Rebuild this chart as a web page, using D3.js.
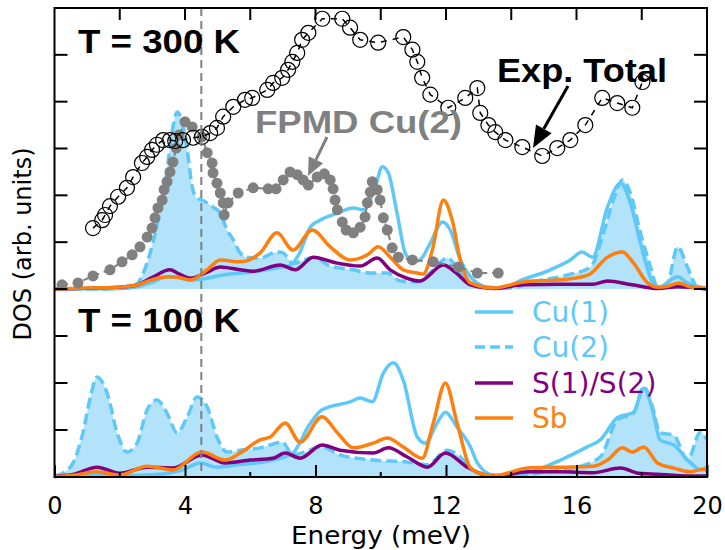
<!DOCTYPE html>
<html>
<head>
<meta charset="utf-8">
<script src="https://cdn.jsdelivr.net/npm/d3@7"></script>
<style>
body { margin: 0; background: #fff; }
</style>
</head>
<body>
<script>
// ---- data (energy meV, DOS arb.) ----
var xTicks = [0, 4, 8, 12, 16, 20];
var xMinorTicks = [2, 6, 10, 14, 18];
var legendNames = ["Cu(1)", "Cu(2)", "S(1)/S(2)", "Sb"];
var panelLabels = ["T = 300 K", "T = 100 K"];

var cu1_300 = [[0,0],[2,0.01],[2.5,0.04],[3,0.15],[3.45,0.26],[3.8,0.24],[4.16,0.19],[4.68,0.23],[5.17,0.3],[6.0,0.36],[6.82,0.45],[7.2,0.5],[7.5,0.75],[7.84,1.32],[8.14,1.47],[8.67,1.62],[9.16,1.73],[9.47,1.69],[9.83,2.18],[10.05,2.61],[10.23,2.48],[10.5,1.62],[10.75,0.77],[11.0,0.58],[11.2,0.62],[11.52,0.98],[11.89,1.43],[12.13,1.26],[12.44,0.62],[12.75,0.26],[13.26,0.04],[13.8,0.01],[14.19,0.15],[15.2,0.41],[15.81,0.62],[16.17,0.79],[16.49,0.68],[16.95,1.75],[17.35,2.26],[17.65,1.84],[17.96,0.98],[18.33,0.15],[18.56,0.04],[18.88,0.19],[19.1,0.26],[19.4,0.13],[19.8,0.04],[20,0.02]];
var cu2_300 = [[0,0],[1,0],[2,0.01],[2.4,0.04],[2.56,0.13],[2.93,0.77],[3.24,1.69],[3.45,2.54],[3.6,3.33],[3.76,3.78],[3.9,3.6],[4.07,2.97],[4.22,2.18],[4.37,1.94],[4.52,1.9],[4.86,1.75],[5.08,1.62],[5.29,1.26],[5.48,1.05],[5.69,0.77],[5.9,0.68],[6.3,0.66],[6.82,0.79],[7.01,0.77],[7.31,0.55],[7.93,0.67],[8.45,0.49],[9.16,0.41],[9.68,0.34],[10.2,0.34],[10.6,0.17],[11.12,0.15],[11.61,0.41],[12.04,0.66],[12.38,0.41],[12.65,0.13],[13.26,0.04],[14,0.02],[14.68,0.15],[15.72,0.3],[16.43,0.47],[16.83,1.2],[17.13,1.9],[17.41,2.33],[17.65,2.05],[17.96,1.2],[18.27,0.47],[18.48,0.04],[18.79,0.13],[19.1,0.9],[19.4,0.47],[19.7,0.04],[20,0]];
var s_300 = [[0,0],[2,0.04],[2.5,0.08],[3.0,0.25],[3.54,0.41],[3.8,0.33],[4.16,0.23],[4.68,0.36],[5.08,0.47],[5.69,0.41],[6.09,0.38],[6.92,0.51],[7.38,0.41],[7.93,0.68],[8.61,0.56],[9.37,0.49],[9.89,0.66],[10.29,0.41],[10.8,0.23],[11.2,0.17],[11.92,0.51],[12.3,0.35],[12.75,0.09],[13.5,0.01],[14.37,0.09],[15.5,0.1],[16.5,0.1],[16.95,0.17],[17.7,0.09],[18.5,0.01],[19.1,0.05],[20,0]];
var sb_300 = [[0,0],[1,0.02],[2,0.04],[2.5,0.08],[3.0,0.2],[3.5,0.26],[3.8,0.25],[4.16,0.19],[4.68,0.41],[5.08,0.62],[5.69,0.58],[6.3,0.77],[6.82,1.2],[7.31,0.83],[7.9,1.26],[8.45,0.9],[9.06,0.62],[9.59,0.73],[9.92,0.9],[10.29,0.68],[10.69,0.41],[11.12,0.34],[11.3,0.32],[11.58,0.83],[11.92,1.9],[12.19,1.47],[12.44,0.62],[12.75,0.13],[13.45,0.02],[14.37,0.15],[15.72,0.21],[16.37,0.3],[16.95,0.68],[17.41,0.79],[17.75,0.55],[18.18,0.13],[18.48,0.04],[18.8,0.06],[19.13,0.13],[19.5,0.04],[20,0.02]];

var cu1_100 = [[0,0.01],[1,0.03],[2,0.03],[3,0.05],[3.5,0.08],[3.94,0.15],[4.46,0.3],[4.98,0.21],[5.6,0.26],[6.7,0.36],[7.31,0.51],[7.8,1.1],[8.2,1.43],[9.06,1.6],[9.37,1.68],[9.74,1.6],[10.08,2.21],[10.39,2.43],[10.69,2.06],[11.12,0.85],[11.36,0.72],[11.73,1.15],[11.98,1.38],[12.34,1.06],[12.75,0.64],[12.96,0.3],[13.45,0.04],[14,0.03],[15.51,0.36],[16.33,0.64],[16.73,0.79],[17.25,1.26],[17.75,1.38],[18.06,1.89],[18.33,1.43],[18.56,0.79],[18.98,0.68],[19.5,0.3],[19.8,0.15],[20,0.21]];
var cu2_100 = [[0,0.02],[0.3,0.1],[0.57,0.3],[0.87,0.94],[1.1,1.7],[1.3,2.13],[1.61,1.79],[1.92,0.94],[2.22,0.53],[2.53,0.72],[2.84,1.43],[3.14,1.64],[3.45,1.36],[3.76,0.94],[4.07,1.28],[4.37,1.7],[4.68,1.49],[4.98,0.85],[5.29,0.53],[5.69,0.57],[6.3,0.62],[6.98,0.74],[7.31,0.47],[8.2,0.64],[8.75,0.47],[9.77,0.36],[10.8,0.32],[11.43,0.26],[12.04,0.57],[12.44,0.43],[12.84,0.15],[13.45,0.04],[13.9,0.02],[15.0,0.1],[16.03,0.21],[16.73,0.43],[17.25,1.21],[17.75,1.36],[18.06,1.92],[18.33,1.49],[18.56,0.94],[18.98,0.89],[19.4,0.36],[19.8,0.96],[20,0.79]];
var s_100 = [[0,0.01],[0.6,0.06],[1.3,0.21],[2.0,0.08],[2.84,0.21],[3.63,0.19],[4.52,0.47],[5.23,0.3],[6.0,0.36],[6.7,0.4],[7.07,0.51],[7.53,0.4],[8.2,0.68],[8.75,0.57],[9.77,0.51],[10.23,0.62],[10.8,0.43],[11.43,0.21],[11.98,0.51],[12.65,0.21],[12.96,0.1],[13.5,0.02],[14.5,0.11],[15.5,0.11],[16.5,0.09],[17.35,0.19],[17.9,0.08],[18.5,0.06],[19.5,0.02],[20,0.02]];
var sb_100 = [[0,0.01],[0.6,0.04],[1.3,0.11],[2.0,0.04],[2.84,0.23],[3.63,0.15],[4.52,0.53],[5.23,0.36],[5.69,0.51],[6.3,0.79],[6.61,0.85],[7.07,1.15],[7.53,0.74],[8.2,1.28],[8.67,0.94],[9.16,0.62],[9.77,0.72],[10.2,0.83],[10.69,0.64],[11.27,0.4],[11.61,1.15],[11.98,2.0],[12.34,1.15],[12.75,0.19],[13.05,0.08],[13.45,0.02],[14.5,0.19],[15.51,0.21],[16.52,0.23],[16.95,0.36],[17.41,0.62],[17.71,0.53],[18.06,0.64],[18.48,0.3],[18.98,0.19],[19.5,0.11],[19.9,0.17],[20,0.13]];

// FPMD Cu(2) (grey dots) and experiment (open circles), 300 K panel
var fpmd = [[0.23,0.09],[0.72,0.13],[1.18,0.28],[1.7,0.41],[2.07,0.58],[2.38,0.73],[2.62,0.9],[2.84,1.11],[2.99,1.3],[3.08,1.52],[3.17,1.73],[3.3,1.9],[3.36,2.12],[3.45,2.29],[3.54,2.5],[3.63,2.71],[3.73,3.01],[3.82,3.29],[4.0,3.57],[4.22,3.46],[4.52,3.25],[4.68,2.91],[4.83,2.69],[4.86,2.48],[4.98,2.26],[5.08,2.05],[5.17,1.84],[5.2,1.58],[5.32,1.84],[5.63,2.05],[6.09,2.16],[6.55,2.14],[6.79,2.14],[7.01,2.33],[7.22,2.5],[7.44,2.44],[7.62,2.33],[7.78,2.22],[8.05,2.39],[8.27,2.46],[8.45,2.33],[8.54,2.14],[8.6,1.9],[8.67,1.69],[8.82,1.43],[8.94,1.26],[9.16,1.2],[9.37,1.32],[9.52,1.54],[9.59,1.84],[9.68,2.07],[9.74,2.29],[9.89,2.12],[9.98,1.9],[10.08,1.52],[10.2,1.26],[10.35,0.88],[10.54,0.68],[10.97,0.62],[11.61,0.58],[12.38,0.47],[12.96,0.34],[13.6,0.34]];
var expTotal = [[1.18,1.3],[1.46,1.47],[1.55,1.58],[1.7,1.77],[1.95,1.97],[2.22,2.16],[2.41,2.39],[2.68,2.69],[2.84,2.82],[2.99,2.97],[3.14,3.08],[3.33,3.18],[3.54,3.18],[3.7,3.16],[3.94,3.18],[4.25,3.23],[4.52,3.25],[4.77,3.33],[4.98,3.44],[5.17,3.68],[5.48,3.89],[5.84,4.04],[6.06,4.08],[6.52,4.25],[6.7,4.4],[6.98,4.51],[7.16,4.68],[7.29,4.85],[7.44,5.04],[7.59,5.32],[7.78,5.47],[8.21,5.77],[8.82,5.77],[9.06,5.58],[9.37,5.32],[9.92,5.26],[10.69,5.38],[10.97,5.11],[11.12,4.85],[11.27,4.51],[11.52,4.15],[12.07,3.87],[12.59,4.08],[12.96,4.29],[13.05,3.76],[13.3,3.5],[13.51,3.35],[13.82,3.18],[14.34,3.03],[14.95,2.84],[15.41,3.01],[15.81,3.18],[16.27,3.5],[16.79,4.08],[17.25,3.97],[17.71,3.87],[18.02,4.42]];

var markerE = 4.5;

// ---- layout ----
var W = 725, H = 550;
var plotLeft = 54.5, plotRight = 707, plotTop = 8, plotMid = 289, plotBottom = 477;

var cuColor = "#5ec8f8", cuFill = "#b3e3fa", sColor = "#800080", sbColor = "#ff7f0e", grey = "#808080";

var svg = d3.select("body").append("svg")
  .attr("width", W)
  .attr("height", H)
  .style("font-family", "'DejaVu Sans', sans-serif");

var x = d3.scaleLinear().domain([0, 20]).range([plotLeft, plotRight]);
var yTop = d3.scaleLinear().domain([0, 6]).range([plotMid, plotTop]);
var yBot = d3.scaleLinear().domain([0, 4]).range([plotBottom, plotMid]);

function drawPanel(y, cu1, cu2, s, sb) {
  var line = d3.line().x(function(d){ return x(d[0]); }).y(function(d){ return y(d[1]); }).curve(d3.curveMonotoneX);
  var area = d3.area().x(function(d){ return x(d[0]); }).y0(y(0)).y1(function(d){ return y(d[1]); }).curve(d3.curveMonotoneX);

  svg.append("path").attr("d", area(cu2)).attr("fill", cuFill);
  svg.append("path").attr("d", line(cu2)).attr("fill", "none")
    .attr("stroke", cuColor).attr("stroke-width", 3.5).attr("stroke-dasharray", "11,5");
  svg.append("path").attr("d", line(cu1)).attr("fill", "none")
    .attr("stroke", cuColor).attr("stroke-width", 3.5);
  svg.append("path").attr("d", line(s)).attr("fill", "none")
    .attr("stroke", sColor).attr("stroke-width", 3.5);
  svg.append("path").attr("d", line(sb)).attr("fill", "none")
    .attr("stroke", sbColor).attr("stroke-width", 3.5);
}

drawPanel(yTop, cu1_300, cu2_300, s_300, sb_300);
drawPanel(yBot, cu1_100, cu2_100, s_100, sb_100);

// FPMD dots
var fLine = d3.line().x(function(d){ return x(d[0]); }).y(function(d){ return yTop(d[1]); });
svg.append("path").attr("d", fLine(fpmd)).attr("fill", "none")
  .attr("stroke", grey).attr("stroke-width", 2).attr("stroke-dasharray", "6,5");
svg.selectAll("circle.fpmd").data(fpmd).enter().append("circle")
  .attr("class", "fpmd")
  .attr("cx", function(d){ return x(d[0]); })
  .attr("cy", function(d){ return yTop(d[1]); })
  .attr("r", 5.5)
  .attr("fill", grey);

// experiment
svg.append("path").attr("d", fLine(expTotal)).attr("fill", "none")
  .attr("stroke", "#000").attr("stroke-width", 1.5).attr("stroke-dasharray", "6,6");
svg.selectAll("circle.exp").data(expTotal).enter().append("circle")
  .attr("class", "exp")
  .attr("cx", function(d){ return x(d[0]); })
  .attr("cy", function(d){ return yTop(d[1]); })
  .attr("r", 7.5)
  .attr("fill", "none")
  .attr("stroke", "#000")
  .attr("stroke-width", 1.2);

// vertical dashed marker
svg.append("line")
  .attr("x1", x(markerE)).attr("x2", x(markerE))
  .attr("y1", plotTop).attr("y2", plotBottom)
  .attr("stroke", grey).attr("stroke-width", 2).attr("stroke-dasharray", "8,5");

// ---- frame and ticks ----
svg.append("rect")
  .attr("x", plotLeft).attr("y", plotTop)
  .attr("width", plotRight - plotLeft).attr("height", plotBottom - plotTop)
  .attr("fill", "none").attr("stroke", "#000").attr("stroke-width", 2);

function yTick(yy) {
  svg.append("line").attr("x1", plotLeft).attr("x2", plotLeft + 13).attr("y1", yy).attr("y2", yy).attr("stroke", "#000").attr("stroke-width", 2);
  svg.append("line").attr("x1", plotRight).attr("x2", plotRight - 13).attr("y1", yy).attr("y2", yy).attr("stroke", "#000").attr("stroke-width", 2);
}
d3.range(0, 6).forEach(function(t){ yTick(yTop(t)); });
d3.range(1, 4).forEach(function(t){ yTick(yBot(t)); });

// top ticks (every 2 meV)
xTicks.concat(xMinorTicks).forEach(function(t){
  if (t === 0 || t === 20) return;
  svg.append("line").attr("x1", x(t)).attr("x2", x(t)).attr("y1", plotTop).attr("y2", plotTop + 12).attr("stroke", "#000").attr("stroke-width", 2);
});

// bottom axis
var xAxis = d3.axisBottom(x).tickValues(xTicks).tickSize(-12).tickPadding(20).tickFormat(d3.format("d"));
var gx = svg.append("g").attr("transform", "translate(0," + plotBottom + ")").call(xAxis);
gx.select(".domain").remove();
gx.selectAll("line").attr("stroke-width", 2);
gx.selectAll("text").attr("font-size", 24).attr("font-family", "'DejaVu Sans', sans-serif").attr("fill", "#000");
xMinorTicks.forEach(function(t){
  svg.append("line").attr("x1", x(t)).attr("x2", x(t)).attr("y1", plotBottom).attr("y2", plotBottom - 5).attr("stroke", "#000").attr("stroke-width", 2);
});

// axis titles
svg.append("text").attr("x", 381).attr("y", 544)
  .attr("text-anchor", "middle").attr("font-size", 25)
  .attr("textLength", 180).attr("lengthAdjust", "spacingAndGlyphs").text("Energy (meV)");
svg.append("text").attr("transform", "translate(31,244) rotate(-90)")
  .attr("text-anchor", "middle").attr("font-size", 24).text("DOS (arb. units)");

// panel labels
svg.append("text").attr("x", 78).attr("y", 53)
  .attr("font-family", "'Liberation Sans', Arial, sans-serif").attr("font-weight", "bold")
  .attr("font-size", 34).attr("textLength", 162).attr("lengthAdjust", "spacingAndGlyphs")
  .text(panelLabels[0]);
svg.append("text").attr("x", 78).attr("y", 332)
  .attr("font-family", "'Liberation Sans', Arial, sans-serif").attr("font-weight", "bold")
  .attr("font-size", 34).attr("textLength", 162).attr("lengthAdjust", "spacingAndGlyphs")
  .text(panelLabels[1]);

// annotations
svg.append("text").attr("x", 255).attr("y", 133)
  .attr("font-family", "'Liberation Sans', Arial, sans-serif").attr("font-weight", "bold")
  .attr("font-size", 31).attr("fill", grey).attr("textLength", 207).attr("lengthAdjust", "spacingAndGlyphs")
  .text("FPMD Cu(2)");
svg.append("text").attr("x", 497).attr("y", 82)
  .attr("font-family", "'Liberation Sans', Arial, sans-serif").attr("font-weight", "bold")
  .attr("font-size", 34).attr("fill", "#000").attr("textLength", 170).attr("lengthAdjust", "spacingAndGlyphs")
  .text("Exp. Total");

function arrow(x1, y1, x2, y2, color, w, hl, hw) {
  var ang = Math.atan2(y2 - y1, x2 - x1);
  var bx = x2 - hl * Math.cos(ang), by = y2 - hl * Math.sin(ang);
  svg.append("line").attr("x1", x1).attr("y1", y1).attr("x2", bx).attr("y2", by)
    .attr("stroke", color).attr("stroke-width", w);
  var px = -Math.sin(ang) * hw / 2, py = Math.cos(ang) * hw / 2;
  svg.append("path")
    .attr("d", "M" + x2 + "," + y2 + "L" + (bx + px) + "," + (by + py) + "L" + (bx - px) + "," + (by - py) + "Z")
    .attr("fill", color);
}
arrow(327, 137, 308, 176, grey, 3, 18, 16);
arrow(568, 86, 533, 148, "#000", 3, 22, 18);

// legend
var legendColors = [cuColor, cuColor, sColor, sbColor];
var legendDash = [null, "10,5", null, null];
var legendY = [312, 347, 383, 418];
legendNames.forEach(function(n, i){
  var ln = svg.append("line").attr("x1", 475).attr("x2", 513)
    .attr("y1", legendY[i]).attr("y2", legendY[i])
    .attr("stroke", legendColors[i]).attr("stroke-width", 3.5);
  if (legendDash[i]) ln.attr("stroke-dasharray", legendDash[i]);
  svg.append("text").attr("x", 532).attr("y", legendY[i] + 10)
    .attr("font-size", 28).attr("fill", legendColors[i]).text(n);
});
</script>
</body>
</html>
